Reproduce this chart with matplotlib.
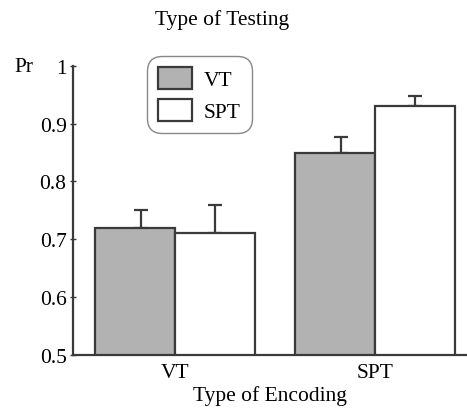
import numpy as np
import matplotlib.pyplot as plt

# données
encodage = ['VT', 'SPT']
pr_vt = [0.72, 0.85]
pr_spt = [0.71, 0.93]
err_vt = [0.03, 0.027]
err_spt = [0.05, 0.017]
yticks = [0.5, 0.6, 0.7, 0.8, 0.9, 1.0]
ytick_labels = ['0.5', '0.6', '0.7', '0.8', '0.9', '1']

plt.rcParams['font.family'] = ['Liberation Serif', 'DejaVu Serif']
plt.rcParams['font.size'] = 15.5

fig = plt.figure(figsize=(4.67, 4.1), dpi=100)
ax = fig.add_axes([0.156, 0.132, 0.844, 0.705])

x = np.arange(len(encodage))
w = 0.4
ink = '#3a3a3a'
ax.bar(x - w/2, pr_vt, w, color='#b2b2b2', edgecolor=ink, linewidth=1.6, label='VT', zorder=2)
ax.bar(x + w/2, pr_spt, w, color='white', edgecolor=ink, linewidth=1.6, label='SPT', zorder=2)
ax.errorbar(x - w/2 + 0.03, pr_vt, yerr=[np.zeros(2), err_vt], fmt='none', ecolor=ink, elinewidth=1.6, capsize=5, capthick=1.6, zorder=1)
ax.errorbar(x + w/2, pr_spt, yerr=[np.zeros(2), err_spt], fmt='none', ecolor=ink, elinewidth=1.6, capsize=5, capthick=1.6, zorder=1)

ax.set_ylim(0.5, 1.0)
ax.set_xlim(-0.51, 1.46)
ax.set_yticks(yticks)
ax.set_yticklabels(ytick_labels)
ax.set_xticks(x)
ax.set_xticklabels(encodage)
ax.tick_params(axis='x', length=0, pad=6)
ax.tick_params(axis='y', direction='inout', length=5, width=1, color=ink, pad=2)
for s in ['top', 'right']:
    ax.spines[s].set_visible(False)
for s in ['left', 'bottom']:
    ax.spines[s].set_color(ink)
    ax.spines[s].set_linewidth(1.6)

ax.set_xlabel('Type of Encoding', labelpad=2)
fig.text(0.475, 0.95, 'Type of Testing', ha='center', va='center')
fig.text(0.03, 0.835, 'Pr', ha='left', va='center')

leg = ax.legend(loc='upper left', bbox_to_anchor=(147/467, 1 - 57/410), bbox_transform=fig.transFigure,
                borderaxespad=0, fancybox=True, edgecolor='#888888', framealpha=1,
                handlelength=1.6, handleheight=1.2, handletextpad=0.55, borderpad=0.5, labelspacing=0.4)
leg.get_frame().set_linewidth(1.0)
leg.get_frame().set_boxstyle('round,pad=0,rounding_size=0.7')

fig.savefig('out.png', dpi=100)
